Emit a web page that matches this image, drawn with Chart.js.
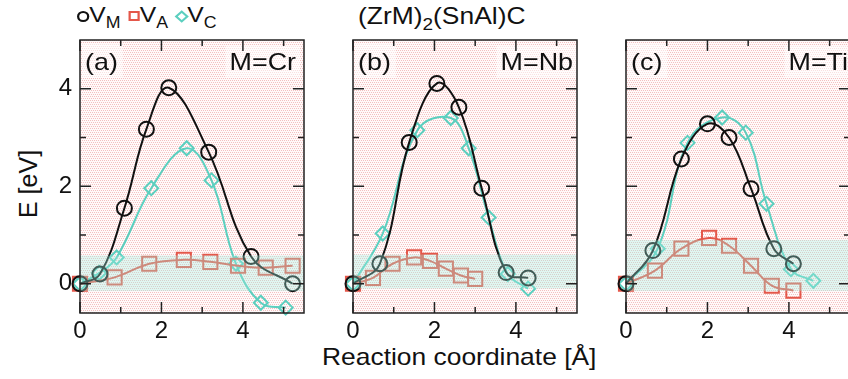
<!DOCTYPE html>
<html>
<head>
<meta charset="utf-8">
<script src="https://cdn.jsdelivr.net/npm/chart.js@4.4.0/dist/chart.umd.min.js"></script>
<style>
  html, body { margin: 0; padding: 0; background: #fff; overflow: hidden; }
  body { width: 848px; height: 379px; position: relative; font-family: 'Liberation Sans', Arial, sans-serif; color: #111; }
  .panel { position: absolute; top: 0; width: 316px; height: 379px; }
  .txt { position: absolute; white-space: nowrap; transform-origin: 0 0; }
  sub { font-size: 0.72em; vertical-align: -0.35em; line-height: 0; }
  .mk { display: inline-block; box-sizing: border-box; vertical-align: middle; }
</style>
</head>
<body>

<div class="txt" id="legend" style="left:77px; top:2px; font-size:22px; transform:scaleX(1.12);">
  <span class="mk" style="width:11px;height:11px;border:2px solid #111;border-radius:50%;"></span>V<sub>M</sub>
  <span class="mk" style="width:10px;height:10px;border:2px solid #e4574a;margin-left:1px;"></span>V<sub>A</sub>
  <span class="mk" style="width:9px;height:9px;border:2px solid #5ccfbf;transform:rotate(45deg);margin-left:2px;"></span>V<sub>C</sub>
</div>
<div class="txt" id="title" style="left:358px; top:2px; font-size:24px; transform:scaleX(1.1);">(ZrM)<sub>2</sub>(SnAl)C</div>
<div class="txt" id="xtitle" style="left:322px; top:343px; font-size:24px; transform:scaleX(1.1);">Reaction coordinate [Å]</div>
<div class="txt" id="ytitle" style="left:14px; top:218px; font-size:25px; transform:rotate(-90deg);">E [eV]</div>

<div class="panel" style="left:0px;"><canvas id="panelA" width="316" height="379"></canvas></div>
<div class="panel" style="left:273px;"><canvas id="panelB" width="316" height="379"></canvas></div>
<div class="panel" style="left:546px;"><canvas id="panelC" width="316" height="379"></canvas></div>

<script>
// axis ticks
const xTicks = [0, 2, 4];
const yTicks = [0, 2, 4];
const xMinor = [1, 3, 5];
const yMinor = [1, 3];

// (a) M=Cr  [reaction coordinate, energy]
const crVM = [[0, 0], [0.49, 0.2], [1.09, 1.55], [1.63, 3.17], [2.18, 4.02], [3.16, 2.7], [4.2, 0.56], [5.22, 0.0]];
const crVA = [[0, 0], [0.85, 0.13], [1.7, 0.41], [2.55, 0.49], [3.2, 0.45], [3.88, 0.37], [4.56, 0.33], [5.22, 0.37]];
const crVC = [[0, 0], [0.47, 0.22], [0.9, 0.54], [1.75, 1.96], [2.62, 2.78], [3.23, 2.12], [3.83, 0.41], [4.44, -0.39], [5.05, -0.49]];

// (b) M=Nb
const nbVM = [[0, 0], [0.66, 0.41], [1.38, 2.9], [2.06, 4.11], [2.6, 3.62], [3.16, 1.96], [3.76, 0.23], [4.3, 0.12]];
const nbVA = [[0, 0], [0.49, 0.12], [0.97, 0.41], [1.5, 0.54], [1.89, 0.47], [2.28, 0.31], [2.65, 0.17], [3.0, 0.1]];
const nbVC = [[0, 0], [0.73, 1.03], [1.58, 3.15], [2.4, 3.4], [2.84, 2.78], [3.33, 1.36], [3.8, 0.2], [4.3, -0.1]];

// (c) M=Ti
const tiVM = [[0, 0], [0.66, 0.68], [1.36, 2.56], [2.0, 3.28], [2.53, 3.0], [3.07, 1.95], [3.63, 0.72], [4.11, 0.41]];
const tiVA = [[0, 0], [0.71, 0.27], [1.36, 0.72], [2.04, 0.94], [2.53, 0.78], [3.07, 0.37], [3.58, -0.04], [4.11, -0.14]];
const tiVC = [[0, 0], [0.78, 0.72], [1.51, 2.89], [2.36, 3.41], [2.94, 3.1], [3.45, 1.64], [4.05, 0.3], [4.6, 0.06]];

// shaded energy band of each panel [low, high]
const crBand = [-0.15, 0.58];
const nbBand = [-0.1, 0.6];
const tiBand = [-0.15, 0.9];

const FONT = "'Liberation Sans', Arial, sans-serif";
const BLACK = '#111111';
const RED = '#e4574a';
const CYAN = '#5ccfbf';

// dotted pink background
const tile = document.createElement('canvas');
tile.width = 4; tile.height = 4;
const tctx = tile.getContext('2d');
tctx.fillStyle = '#fffafa';
tctx.fillRect(0, 0, 4, 4);
tctx.fillStyle = '#f4c0c0';
[[0, 0], [2, 0], [1, 2], [3, 2]].forEach(p => tctx.fillRect(p[0], p[1], 1, 1));

function series(points, color, style, radius) {
    return {
        data: points.map(p => ({ x: p[0], y: p[1] })),
        borderColor: color,
        borderWidth: 2,
        pointStyle: style,
        pointRadius: radius,
        pointBorderColor: color,
        pointBorderWidth: 2,
        pointBackgroundColor: 'rgba(0,0,0,0)',
        tension: 0.4,
        fill: false,
        clip: false
    };
}

const panelPlugin = {
    id: 'panel',
    beforeDatasetsDraw(chart, args, opts) {
        const { ctx, chartArea: a } = chart;
        ctx.save();
        ctx.fillStyle = ctx.createPattern(tile, 'repeat');
        ctx.fillRect(a.left, a.top, a.width, a.height);

        // panel tag and metal label, slightly widened
        ctx.font = '24px ' + FONT;
        ctx.textBaseline = 'alphabetic';
        const sx = 1.12;
        const tagW = ctx.measureText(opts.tag).width * sx;
        const metW = ctx.measureText(opts.metal).width * sx;
        ctx.fillStyle = 'rgba(255,255,255,0.5)';
        ctx.fillRect(a.left + 2, a.top + 4, tagW + 8, 34);
        ctx.fillRect(a.right - opts.metalGap - metW - 4, a.top + 6, metW + 8, 32);
        ctx.fillStyle = BLACK;
        ctx.save();
        ctx.translate(a.left + 5, a.top + 30);
        ctx.scale(sx, 1);
        ctx.fillText(opts.tag, 0, 0);
        ctx.restore();
        ctx.save();
        ctx.translate(a.right - opts.metalGap - metW, a.top + 30);
        ctx.scale(sx, 1);
        ctx.fillText(opts.metal, 0, 0);
        ctx.restore();
        ctx.restore();
    },
    afterDatasetsDraw(chart, args, opts) {
        const { ctx, chartArea: a, scales: { x, y } } = chart;
        ctx.save();
        // band sits on top of the curves
        const top = y.getPixelForValue(opts.band[1]);
        const bot = y.getPixelForValue(opts.band[0]);
        ctx.fillStyle = 'rgba(160,236,222,0.34)';
        ctx.fillRect(a.left, top, a.width, bot - top);

        ctx.strokeStyle = '#222';
        ctx.lineWidth = 1.5;
        ctx.strokeRect(a.left, a.top, a.width, a.height);

        ctx.beginPath();
        const tickX = (v, len) => {
            const px = x.getPixelForValue(v);
            ctx.moveTo(px, a.bottom); ctx.lineTo(px, a.bottom - len);
            ctx.moveTo(px, a.top); ctx.lineTo(px, a.top + len);
        };
        const tickY = (v, len) => {
            const py = y.getPixelForValue(v);
            ctx.moveTo(a.left, py); ctx.lineTo(a.left + len, py);
            ctx.moveTo(a.right, py); ctx.lineTo(a.right - len, py);
        };
        xTicks.forEach(v => tickX(v, 11));
        xMinor.forEach(v => tickX(v, 6));
        yTicks.forEach(v => tickY(v, 11));
        yMinor.forEach(v => tickY(v, 6));
        ctx.stroke();
        ctx.restore();
    }
};

function makePanel(id, vm, va, vc, band, tag, metal, metalGap, showY) {
    new Chart(document.getElementById(id), {
        type: 'line',
        data: {
            datasets: [
                series(vm, BLACK, 'circle', 7.5),
                series(va, RED, 'rect', 10),
                series(vc, CYAN, 'rectRot', 7)
            ]
        },
        options: {
            responsive: false,
            animation: false,
            devicePixelRatio: 1,
            layout: { padding: { left: 0, top: 40, right: 10, bottom: 0 } },
            plugins: {
                legend: { display: false },
                tooltip: { enabled: false },
                panel: { band: band, tag: tag, metal: metal, metalGap: metalGap }
            },
            scales: {
                x: {
                    type: 'linear',
                    min: 0,
                    max: 5.5,
                    afterBuildTicks: s => { s.ticks = xTicks.map(v => ({ value: v })); },
                    afterFit: s => { s.height = 66; },
                    grid: { display: false, drawTicks: false },
                    border: { display: false },
                    ticks: { color: BLACK, font: { family: FONT, size: 24 }, padding: 4, maxRotation: 0 }
                },
                y: {
                    type: 'linear',
                    min: -0.6,
                    max: 5.0,
                    afterBuildTicks: s => { s.ticks = yTicks.map(v => ({ value: v })); },
                    afterFit: s => { s.width = 80; },
                    grid: { display: false, drawTicks: false },
                    border: { display: false },
                    ticks: { display: showY, color: BLACK, font: { family: FONT, size: 24 }, padding: 8 }
                }
            }
        },
        plugins: [panelPlugin]
    });
}

makePanel('panelA', crVM, crVA, crVC, crBand, '(a)', 'M=Cr', 8, true);
makePanel('panelB', nbVM, nbVA, nbVC, nbBand, '(b)', 'M=Nb', 4, false);
makePanel('panelC', tiVM, tiVA, tiVC, tiBand, '(c)', 'M=Ti', 2, false);
</script>
</body>
</html>
